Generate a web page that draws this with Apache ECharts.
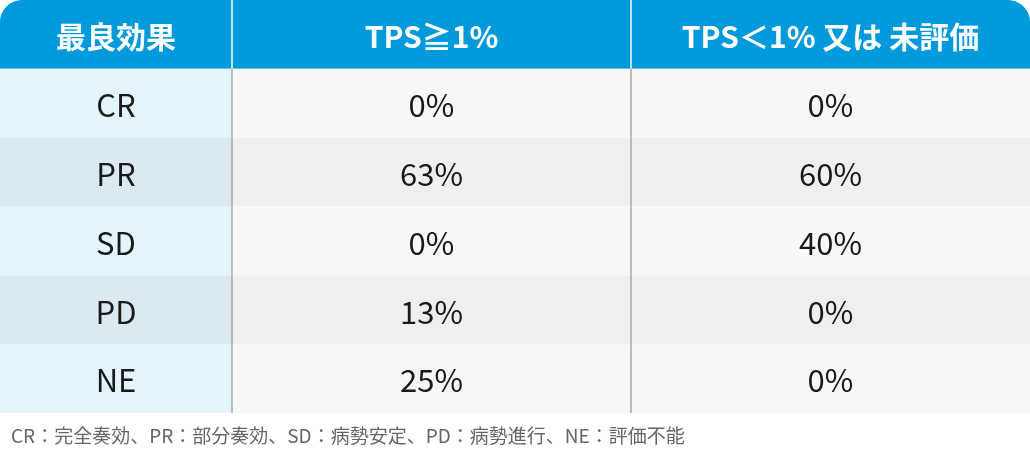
<!DOCTYPE html>
<html><head><meta charset="utf-8">
<script src="https://cdn.jsdelivr.net/npm/echarts@6/dist/echarts.min.js"></script>
<style>html,body{margin:0;padding:0;background:#fff}#c{width:1030px;height:456px}</style>
</head><body><div id="c"></div>
<script>
// 表データ
var headers = ['最良効果', 'TPS≧1%', 'TPS＜1% 又は 未評価'];
var categories = ['CR', 'PR', 'SD', 'PD', 'NE'];
var tpsHigh = ['0%', '63%', '0%', '13%', '25%'];
var tpsLow = ['0%', '60%', '40%', '0%', '0%'];
var footnote = 'CR：完全奏効、PR：部分奏効、SD：病勢安定、PD：病勢進行、NE：評価不能';

var colEdges = [0, 232, 631, 1030]; // 列境界（x軸の値）
var rows = ['head'].concat(categories);

var cells = [];
rows.forEach(function (r, i) {
  for (var c = 0; c < 3; c++) {
    var txt = i === 0 ? headers[c] : (c === 0 ? categories[i - 1] : (c === 1 ? tpsHigh[i - 1] : tpsLow[i - 1]));
    cells.push([c, i, txt]);
  }
});

function fillOf(c, r) {
  if (r === 0) return '#0099dc';
  var odd = (r % 2 === 0);
  if (c === 0) return odd ? '#dbeaf1' : '#e3f4fb';
  return odd ? '#efefef' : '#f7f7f7';
}

var chart = echarts.init(document.getElementById('c'));
chart.setOption({
  animation: false,
  grid: { left: 0, right: 0, top: 0, bottom: 43 },
  xAxis: { type: 'value', min: 0, max: 1030, show: false },
  yAxis: { type: 'category', data: rows, inverse: true, show: false },
  title: {
    text: footnote, left: 6, bottom: 6,
    textStyle: { fontSize: 19, fontWeight: 'normal', color: '#666', fontFamily: 'Noto Sans CJK JP' }
  },
  series: [{
    type: 'custom',
    data: cells,
    renderItem: function (params, api) {
      var c = api.value(0), r = api.value(1);
      var p0 = api.coord([colEdges[c], r]);
      var p1 = api.coord([colEdges[c + 1], r]);
      var h = api.size([0, 1])[1];
      var x = p0[0], y = p0[1] - h / 2, w = p1[0] - p0[0];
      var rad = 0;
      if (r === 0 && c === 0) rad = [22, 0, 0, 0];
      if (r === 0 && c === 2) rad = [0, 22, 0, 0];
      var children = [{
        type: 'rect', shape: { x: x, y: y, width: w, height: h, r: rad },
        style: { fill: fillOf(c, r) }
      }];
      if (c > 0) {
        children.push({
          type: 'line', shape: { x1: x, y1: y, x2: x, y2: y + h },
          style: { stroke: r === 0 ? '#ffffff' : '#a8a8a8', lineWidth: 1.5 }
        });
      }
      children.push({
        type: 'text',
        style: {
          text: api.value(2), x: x + w / 2, y: y + h / 2 + 2,
          align: 'center', verticalAlign: 'middle',
          fill: r === 0 ? '#ffffff' : '#1a1a1a',
          fontSize: r === 0 ? 30 : 31, fontWeight: r === 0 ? 'bold' : 'normal',
          fontFamily: 'Noto Sans CJK JP'
        }
      });
      return { type: 'group', children: children };
    }
  }]
});
</script></body></html>
